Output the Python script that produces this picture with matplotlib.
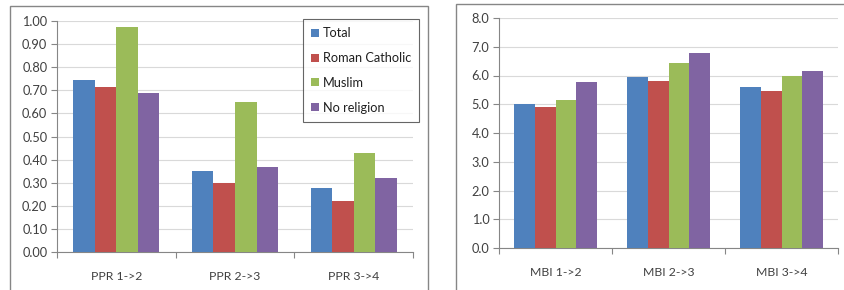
import matplotlib
matplotlib.use("Agg")
import matplotlib.pyplot as plt
from matplotlib.patches import Rectangle
import numpy as np

plt.rcParams['font.family'] = ['Lato', 'DejaVu Sans']

series = ["Total", "Roman Catholic", "Muslim", "No religion"]
colors = ["#4F81BD", "#C0504D", "#9BBB59", "#8064A2"]

ppr_cats = ["PPR 1->2", "PPR 2->3", "PPR 3->4"]
ppr_total = [0.745, 0.35, 0.275]
ppr_rc = [0.715, 0.30, 0.22]
ppr_muslim = [0.975, 0.65, 0.43]
ppr_none = [0.69, 0.37, 0.32]

mbi_cats = ["MBI 1->2", "MBI 2->3", "MBI 3->4"]
mbi_total = [5.01, 5.95, 5.60]
mbi_rc = [4.89, 5.82, 5.45]
mbi_muslim = [5.14, 6.45, 5.99]
mbi_none = [5.76, 6.78, 6.16]

W, H = 844, 290
fig = plt.figure(figsize=(W / 100, H / 100), dpi=100)

def px_axes(x0, y0, x1, y1):
    return fig.add_axes([x0 / W, 1 - y1 / H, (x1 - x0) / W, (y1 - y0) / H])

# chart frames
for (x0, y0, x1, y1) in [(9.5, 5.5, 427.5, 300), (455.5, 3.5, 850, 300)]:
    fig.patches.append(Rectangle((x0 / W, 1 - y1 / H), (x1 - x0) / W, (y1 - y0) / H,
                                 transform=fig.transFigure, fill=False,
                                 edgecolor="#868686", linewidth=1.0, zorder=0))

grid_c = "#D9D9D9"
axis_c = "#868686"
text_c = "#404040"

def style(ax, cats, vals_list, ymax, step, fmt):
    n = len(cats)
    x = np.arange(n)
    w = 1 / 5.5
    for i, (vals, c) in enumerate(zip(vals_list, colors)):
        ax.bar(x + (i - 1.5) * w, vals, width=w, color=c, label=series[i], zorder=3)
    ax.set_xlim(-0.5, n - 0.5)
    ax.set_ylim(0, ymax)
    ticks = np.arange(0, ymax + step / 2, step)
    ax.set_yticks(ticks)
    ax.set_yticklabels([fmt.format(t) for t in ticks])
    ax.set_xticks(x)
    ax.set_xticklabels(cats)
    ax.set_xticks(np.arange(-0.5, n, 1), minor=True)
    ax.tick_params(axis='x', which='major', length=0, pad=14, labelsize=8.8, colors=text_c)
    ax.tick_params(axis='x', which='minor', length=4, color=axis_c, width=0.8)
    ax.tick_params(axis='y', length=4, color=axis_c, width=0.8, labelsize=9.2, colors=text_c, pad=3)
    ax.grid(axis='y', color=grid_c, linewidth=0.8, zorder=0)
    for s in ["top", "right"]:
        ax.spines[s].set_visible(False)
    ax.spines["left"].set_color(axis_c)
    ax.spines["bottom"].set_color(axis_c)
    ax.spines["left"].set_linewidth(0.8)
    ax.spines["bottom"].set_linewidth(0.8)
    ax.set_axisbelow(True)

ax1 = px_axes(57, 21, 413, 252)
style(ax1, ppr_cats, [ppr_total, ppr_rc, ppr_muslim, ppr_none], 1.0, 0.1, "{:.2f}")
leg = ax1.legend(loc="upper left", bbox_to_anchor=((303 - 57) / (413 - 57), 1 - (19 - 21) / 231),
                 frameon=True, fancybox=False, fontsize=9.2, handlelength=0.6, handleheight=0.6,
                 handletextpad=0.3, labelspacing=1.0, borderpad=0.65, borderaxespad=0)
leg.get_frame().set_edgecolor("#404040")
leg.get_frame().set_linewidth(0.8)
for t in leg.get_texts():
    t.set_color("#202020")

ax2 = px_axes(499, 18, 838, 248)
style(ax2, mbi_cats, [mbi_total, mbi_rc, mbi_muslim, mbi_none], 8.0, 1.0, "{:.1f}")

fig.savefig("out.png", dpi=100)
